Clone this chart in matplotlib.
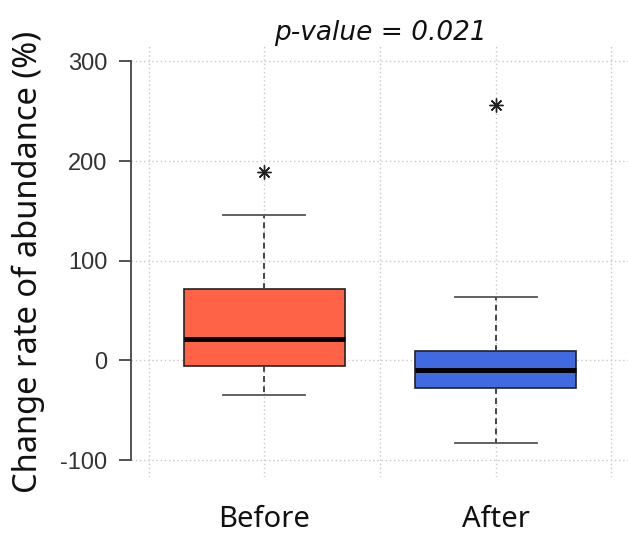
import matplotlib
matplotlib.use('Agg')
from matplotlib import pyplot as plt
import numpy as np

# ----- DATA -----
groups = ['Before', 'After']
box_colors = ['#FF6347', '#4169E1']
q1 = [-6, -28]
medians = [21, -10]
q3 = [72, 9]
whisker_low = [-35, -83]
whisker_high = [146, 64]
outliers = [[189], [256]]
y_ticks = [-100, 0, 100, 200, 300]
p_value = 0.021

# ----- PLOT -----
fig = plt.figure(figsize=(6.28, 5.35), dpi=100)
ax = fig.add_axes([130.5 / 628, 1 - 477 / 535, 499 / 628, 431 / 535])

stats = []
for i, g in enumerate(groups):
    stats.append(dict(label=g, q1=q1[i], med=medians[i], q3=q3[i],
                      whislo=whisker_low[i], whishi=whisker_high[i], fliers=outliers[i]))

bp = ax.bxp(stats, positions=[1, 2], widths=0.7, patch_artist=True, showfliers=True,
            boxprops=dict(edgecolor='#222222', linewidth=1.2),
            medianprops=dict(color='black', linewidth=3.6, solid_capstyle='butt'),
            whiskerprops=dict(color='#444444', linewidth=1.4, linestyle=(0, (3, 2.2))),
            capprops=dict(color='#555555', linewidth=1.3),
            capwidths=0.355,
            flierprops=dict(marker=(8, 2, 0), markersize=10, markeredgecolor='#222222',
                            markeredgewidth=1.0, linestyle='none'))
for patch, c in zip(bp['boxes'], box_colors):
    patch.set_facecolor(c)

ax.set_xlim(0.42, 2.58)
ax.set_ylim(-117, 315.5)

# grid
for x in [0.5, 1, 1.5, 2, 2.5]:
    ax.axvline(x, color='#c8c8c8', linestyle=(0, (1, 2)), linewidth=1, zorder=0)
for y in y_ticks:
    ax.axhline(y, color='#c8c8c8', linestyle=(0, (1, 2)), linewidth=1, zorder=0)

for s in ['top', 'right', 'bottom']:
    ax.spines[s].set_visible(False)
ax.spines['left'].set_bounds(-100, 300)
ax.spines['left'].set_color('#444444')
ax.spines['left'].set_linewidth(1.3)

ax.set_yticks(y_ticks)
ax.set_yticklabels([str(t) for t in y_ticks], fontfamily='Liberation Sans', fontsize=17, color='#333333')
ax.tick_params(axis='y', length=8.6, width=1.3, color='#444444', pad=8)
ax.tick_params(axis='x', length=0, pad=20)
ax.set_xticks([1, 2])
ax.set_xticklabels(groups, fontfamily='Noto Sans', fontsize=21, color='#111111')

ax.set_ylabel('Change rate of abundance (%)', fontfamily='Noto Sans', fontsize=23.5, color='#111111')
ax.yaxis.set_label_coords(-0.171, 0.5)
ax.set_title(f'p-value = {p_value}', fontfamily='DejaVu Sans', fontstyle='oblique', fontsize=19,
             color='#111111', pad=0)

fig.savefig('out.png', dpi=100)
